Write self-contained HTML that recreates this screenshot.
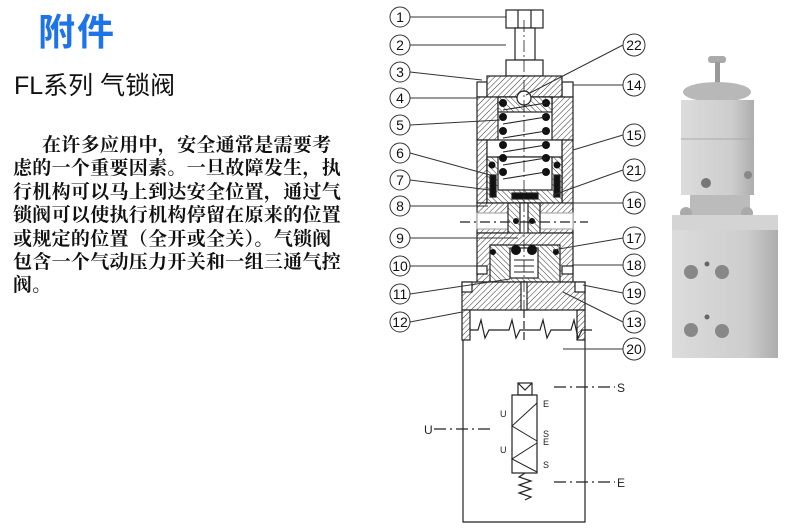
<!DOCTYPE html>
<html><head><meta charset="utf-8"><style>
body{margin:0;width:790px;height:528px;background:#fff;position:relative;overflow:hidden}
.t1{position:absolute;left:38px;top:2px;font:bold 37px "Liberation Sans","Noto Sans CJK SC",sans-serif;color:#1d73e8;letter-spacing:2px}
.t2{position:absolute;left:14px;top:66px;font:25px "Liberation Sans","Noto Sans CJK SC",sans-serif;color:#111}
.p{position:absolute;left:13px;top:134px;width:336px;font:bold 19px/23.4px "Liberation Serif","Noto Serif CJK SC",serif;color:#111;text-indent:29px;letter-spacing:.3px}
svg{position:absolute;left:0;top:0}
</style></head><body>
<div class="t1">附件</div>
<div class="t2">FL系列 气锁阀</div>
<div class="p">在许多应用中，安全通常是需要考虑的一个重要因素。一旦故障发生，执行机构可以马上到达安全位置，通过气锁阀可以使执行机构停留在原来的位置或规定的位置（全开或全关）。气锁阀包含一个气动压力开关和一组三通气控阀。</div>
<svg width="790" height="528" viewBox="0 0 790 528">
<defs>
<pattern id="h" width="4" height="4" patternUnits="userSpaceOnUse" patternTransform="rotate(45)"><rect width="4" height="4" fill="#fff"/><line x1="0" y1="0" x2="0" y2="4" stroke="#333" stroke-width="1"/></pattern>
<pattern id="h2" width="4" height="4" patternUnits="userSpaceOnUse" patternTransform="rotate(-45)"><rect width="4" height="4" fill="#fff"/><line x1="0" y1="0" x2="0" y2="4" stroke="#333" stroke-width="1"/></pattern>
<linearGradient id="g1" x1="0" x2="1"><stop offset="0" stop-color="#dcdcdc"/><stop offset=".7" stop-color="#cdcdcd"/><stop offset="1" stop-color="#adadad"/></linearGradient>
</defs>
<g stroke="#222" stroke-width="1.2" fill="none">
<rect x="506" y="10" width="37" height="18" fill="#fff"/>
<line x1="518" y1="10" x2="518" y2="28"/><line x1="531" y1="10" x2="531" y2="28"/>
<rect x="515" y="28" width="20" height="32" fill="#fff"/>
<rect x="506" y="60" width="37" height="16" fill="#fff"/>
<rect x="477" y="82" width="10" height="15" fill="#fff"/><rect x="562" y="82" width="11" height="15" fill="#fff"/>
<rect x="487" y="76" width="75" height="21" fill="url(#h)"/>
<rect x="477" y="97" width="96" height="43" fill="url(#h)"/>
<rect x="498" y="97" width="54" height="60" fill="#fff"/>
<rect x="498" y="97" width="54" height="15" fill="url(#h2)"/>
<circle cx="524" cy="98" r="7" fill="#fff"/>
<rect x="477" y="140" width="10" height="63" fill="url(#h)"/><rect x="562" y="140" width="11" height="63" fill="url(#h)"/>
<rect x="487" y="140" width="75" height="63" fill="#fff"/>
<path d="M487 157h75v46h-75z" fill="url(#h2)"/>
<rect x="498" y="157" width="54" height="33" fill="#fff"/>
<rect x="490" y="175" width="6" height="22" fill="#111"/><rect x="554" y="175" width="6" height="22" fill="#111"/>
<rect x="512" y="193" width="26" height="6" fill="#111"/>
<rect x="477" y="203" width="96" height="30" fill="url(#h)"/>
<rect x="477" y="213" width="96" height="16" fill="#fff" stroke="#aaa"/>
<rect x="508" y="203" width="32" height="35" fill="url(#h2)"/>
<rect x="520" y="203" width="8" height="60" fill="#fff"/>
<line x1="460" y1="222" x2="588" y2="222" stroke-dasharray="10,4,2,4"/>
<rect x="477" y="233" width="96" height="49" fill="url(#h)"/>
<path d="M490 245h70v37h-70z" fill="url(#h2)"/>
<rect x="510" y="248" width="28" height="30" fill="#fff"/>
<rect x="477" y="266" width="10" height="8" fill="#fff"/><rect x="562" y="266" width="11" height="8" fill="#fff"/>
<rect x="462" y="282" width="123" height="28" fill="url(#h)"/>
<rect x="462" y="282" width="10" height="10" fill="#fff"/><rect x="575" y="282" width="10" height="10" fill="#fff"/>
<rect x="521" y="282" width="6" height="28" fill="#fff"/>
<rect x="462" y="310" width="8" height="30" fill="url(#h)"/><rect x="577" y="310" width="8" height="30" fill="url(#h)"/>
<path d="M470 330l8 0 3-10 4 18 4-8 h20 l3-10 4 18 4-8 h20 l3-10 4 18 4-8 h20 l3-10 4 18 4-8 h10"/>
<line x1="524" y1="310" x2="524" y2="340" stroke-dasharray="8,3"/>
<path d="M463 340V522H585V340"/>
<g fill="#111" stroke="none">
<circle cx="503" cy="103" r="4"/><circle cx="546" cy="103" r="4"/>
<circle cx="503" cy="117" r="4"/><circle cx="546" cy="117" r="4"/>
<circle cx="503" cy="131" r="4"/><circle cx="546" cy="131" r="4"/>
<circle cx="503" cy="145" r="4"/><circle cx="546" cy="145" r="4"/>
<circle cx="503" cy="158" r="4"/><circle cx="546" cy="158" r="4"/>
<circle cx="503" cy="172" r="4"/><circle cx="546" cy="172" r="4"/>
<circle cx="492" cy="165" r="3.5"/><circle cx="557" cy="165" r="3.5"/>
<circle cx="516" cy="250" r="5"/><circle cx="532" cy="250" r="5"/>
<circle cx="493" cy="252" r="3"/><circle cx="556" cy="252" r="3"/>
<circle cx="516" cy="221" r="3"/><circle cx="532" cy="221" r="3"/>
</g>
<g stroke-width="1">
<path d="M503 110L546 103M503 124L546 117M503 138L546 131M503 152L546 145M503 165L546 158M503 179L546 172"/>
<path d="M514 260h20M514 266h20M514 272h20"/>
</g>
<line x1="524" y1="20" x2="524" y2="310" stroke-dasharray="12,3,2,3" stroke-width=".8"/>
<rect x="512" y="395" width="25" height="78" fill="#fff"/>
<rect x="518" y="383" width="14" height="12"/>
<path d="M518 383l7 7 7-7"/>
<path d="M537 403L512 426 537 441M537 443L512 459 537 472" stroke-width="1"/>
<path d="M525 473l-6 4 12 4-12 4 12 4-12 4 12 4-6 3"/>
<line x1="554" y1="387" x2="615" y2="387" stroke-dasharray="12,4,2,4"/>
<line x1="554" y1="482" x2="615" y2="482" stroke-dasharray="12,4,2,4"/>
<line x1="434" y1="429" x2="494" y2="429" stroke-dasharray="12,4,2,4"/>
</g>
<g font-family="Liberation Sans,sans-serif" font-size="9" fill="#222">
<text x="543" y="407">E</text><text x="500" y="417">U</text><text x="543" y="437">S</text><text x="543" y="445">E</text><text x="500" y="453">U</text><text x="543" y="468">S</text>
</g>
<g font-family="Liberation Sans,sans-serif" font-size="12" fill="#222">
<text x="617" y="392">S</text><text x="617" y="487">E</text><text x="424" y="434">U</text>
</g>
<g stroke="#333" stroke-width="1" fill="none">
<path d="M410 17H506M410 45H506M410 72l72 8M410 98h67M410 125l90-5M410 153l80 22M410 180l80 10M410 206h78M410 238h108M410 266h67M410 294l100-15M410 322l52-10"/>
<path d="M623 45l-97 50M623 85H573M623 135l-50 15M623 170l-70 25M623 203H555M623 238l-70 12M623 265H573M623 293l-40-8M623 322l-60-30M623 349H563"/>
<g fill="#fff">
<circle cx="400" cy="17" r="10"/><circle cx="400" cy="45" r="10"/><circle cx="400" cy="72" r="10"/><circle cx="400" cy="98" r="10"/><circle cx="400" cy="125" r="10"/><circle cx="400" cy="153" r="10"/><circle cx="400" cy="180" r="10"/><circle cx="400" cy="206" r="10"/><circle cx="400" cy="238" r="10"/><circle cx="400" cy="266" r="10"/><circle cx="400" cy="294" r="10"/><circle cx="400" cy="322" r="10"/>
<circle cx="634" cy="45" r="11"/><circle cx="634" cy="85" r="11"/><circle cx="634" cy="135" r="11"/><circle cx="634" cy="170" r="11"/><circle cx="634" cy="203" r="11"/><circle cx="634" cy="238" r="11"/><circle cx="634" cy="265" r="11"/><circle cx="634" cy="293" r="11"/><circle cx="634" cy="322" r="11"/><circle cx="634" cy="349" r="11"/></g>
</g>
<g font-family="Liberation Sans,sans-serif" font-size="14" text-anchor="middle" fill="#111">
<text x="400" y="22">1</text><text x="400" y="50">2</text><text x="400" y="77">3</text><text x="400" y="103">4</text><text x="400" y="130">5</text><text x="400" y="158">6</text><text x="400" y="185">7</text><text x="400" y="211">8</text><text x="400" y="243">9</text><text x="400" y="271">10</text><text x="400" y="299">11</text><text x="400" y="327">12</text>
<text x="634" y="50">22</text><text x="634" y="90">14</text><text x="634" y="140">15</text><text x="634" y="175">21</text><text x="634" y="208">16</text><text x="634" y="243">17</text><text x="634" y="270">18</text><text x="634" y="298">19</text><text x="634" y="327">13</text><text x="634" y="354">20</text>
</g>
<g>
<rect x="708" y="56" width="18" height="7" rx="3" fill="#aaa"/><rect x="715" y="62" width="5" height="22" fill="#999"/>
<ellipse cx="717" cy="92" rx="34" ry="10" fill="#b8b8b8"/>
<rect x="681" y="100" width="73" height="60" fill="url(#g1)"/>
<line x1="681" y1="139" x2="754" y2="139" stroke="#aaa"/>
<rect x="681" y="140" width="73" height="55" fill="url(#g1)"/>
<circle cx="706" cy="183" r="5" fill="#777"/>
<circle cx="748" cy="175" r="4" fill="#888"/>
<rect x="690" y="195" width="60" height="20" fill="#bbb"/>
<circle cx="686" cy="213" r="6" fill="#aaa"/><circle cx="747" cy="213" r="6" fill="#aaa"/>
<rect x="672" y="215" width="106" height="18" fill="#d4d4d4"/>
<rect x="672" y="230" width="106" height="128" fill="url(#g1)"/>
<circle cx="691" cy="272" r="7" fill="#888"/><circle cx="722" cy="272" r="7" fill="#888"/><circle cx="707" cy="264" r="2.5" fill="#666"/>
<circle cx="691" cy="330" r="7" fill="#888"/><circle cx="722" cy="331" r="7" fill="#888"/><circle cx="707" cy="317" r="2.5" fill="#666"/>
</g>
</svg>
</body></html>
